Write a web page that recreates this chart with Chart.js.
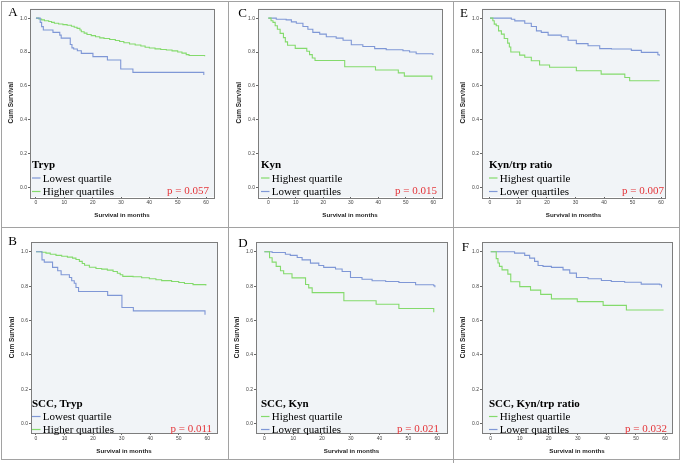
<!DOCTYPE html>
<html>
<head>
<meta charset="utf-8">
<script src="https://cdn.jsdelivr.net/npm/chart.js@4.4.1/dist/chart.umd.min.js"></script>
<style>
  body { margin: 0; background: #fff; }
  #fig { position: relative; width: 681px; height: 465px; overflow: hidden; }
  .ln { position: absolute; background: #a2a2a2; }
  canvas { position: absolute; }
</style>
</head>
<body>
<div id="fig"></div>
<script>
// axis ticks
const monthTicks = [0, 10, 20, 30, 40, 50, 60];
const survTicks = [0, 0.2, 0.4, 0.6, 0.8, 1.0];

// A - Tryp
const aLowMonths = [0, 1.5, 2.0, 2.6, 6.0, 8.4, 8.9, 12.1, 12.7, 13.3, 14.6, 16.0, 20.1, 25.2, 29.9, 34.2, 59.2];
const aLowSurv   = [1, 0.975, 0.95, 0.93, 0.916, 0.90, 0.882, 0.845, 0.825, 0.818, 0.808, 0.792, 0.773, 0.753, 0.70, 0.68, 0.665];
const aHighMonths = [0, 1, 2, 3, 4.5, 5.5, 6.5, 8, 9.5, 11, 12.5, 13.5, 14.5, 15.5, 16, 17, 18, 19.5, 21, 22.5, 24, 26, 28, 29.5, 31, 33, 35, 37, 38.5, 40, 42, 44, 46, 48, 50, 51.5, 53, 54, 59.5];
const aHighSurv   = [1, 0.995, 0.99, 0.985, 0.98, 0.975, 0.97, 0.966, 0.962, 0.958, 0.952, 0.946, 0.94, 0.93, 0.92, 0.912, 0.904, 0.897, 0.89, 0.884, 0.88, 0.874, 0.868, 0.862, 0.855, 0.848, 0.842, 0.836, 0.828, 0.824, 0.819, 0.815, 0.812, 0.807, 0.80, 0.794, 0.785, 0.78, 0.775];

// C - Kyn
const cHighMonths = [0, 1, 1.7, 2.5, 3.3, 4.3, 5.5, 6.2, 7, 9.8, 14, 15, 16, 17, 27.8, 39, 47.3, 49.5, 59.5];
const cHighSurv   = [1, 0.985, 0.975, 0.955, 0.935, 0.91, 0.885, 0.86, 0.84, 0.822, 0.805, 0.785, 0.765, 0.75, 0.713, 0.694, 0.677, 0.658, 0.637];
const cLowMonths = [0, 2.9, 6.5, 8.4, 10.2, 12.6, 14.4, 16.2, 18.7, 21.1, 24.7, 27.2, 30.2, 34.4, 38.7, 42.9, 49, 51.4, 53.8, 59.9];
const cLowSurv   = [1, 0.994, 0.99, 0.978, 0.97, 0.951, 0.935, 0.916, 0.906, 0.89, 0.882, 0.87, 0.843, 0.833, 0.82, 0.814, 0.808, 0.80, 0.79, 0.782];

// E - Kyn/trp ratio
const eHighMonths = [0, 1, 1.5, 2.2, 3, 4, 5, 6.2, 6.8, 7.3, 10.4, 12.2, 14.5, 17.4, 20.9, 30.3, 39, 47.3, 49, 59.5];
const eHighSurv   = [1, 0.985, 0.965, 0.955, 0.925, 0.906, 0.88, 0.853, 0.83, 0.80, 0.782, 0.769, 0.749, 0.724, 0.71, 0.69, 0.67, 0.65, 0.631, 0.631];
const eLowMonths = [0, 7.5, 8.7, 12.2, 14.5, 16.3, 18, 20.4, 25, 27.4, 30.3, 34.4, 38.5, 42.6, 49.6, 53.1, 58.9, 59.4];
const eLowSurv   = [1, 0.994, 0.984, 0.97, 0.951, 0.925, 0.916, 0.90, 0.89, 0.87, 0.85, 0.837, 0.82, 0.818, 0.81, 0.798, 0.784, 0.778];

// B - SCC, Tryp
const bLowMonths = [0, 2.1, 2.9, 5.8, 7.6, 8.8, 11.7, 12.5, 13.4, 14, 14.9, 25.1, 30.1, 34.1, 59.2];
const bLowSurv   = [1, 0.953, 0.94, 0.909, 0.89, 0.866, 0.85, 0.831, 0.817, 0.792, 0.769, 0.746, 0.676, 0.656, 0.633];
const bHighMonths = [0, 2, 3.5, 5, 7, 9, 11, 12.8, 14, 15.2, 16.2, 17, 18.7, 21, 23, 25, 27, 28.5, 29.5, 30.4, 34, 37, 39.7, 42, 44, 47.5, 50, 52, 55, 59.5];
const bHighSurv   = [1, 0.997, 0.992, 0.986, 0.979, 0.974, 0.969, 0.963, 0.955, 0.944, 0.932, 0.922, 0.91, 0.903, 0.899, 0.893, 0.885, 0.875, 0.866, 0.857, 0.855, 0.849, 0.843, 0.837, 0.832, 0.827, 0.821, 0.815, 0.809, 0.804];

// D - SCC, Kyn
const dHighMonths = [0, 1.8, 2.7, 4.1, 5.6, 6.7, 9.6, 14.3, 15.4, 16.6, 27.6, 38.8, 46.7, 58.8];
const dHighSurv   = [1, 0.965, 0.94, 0.915, 0.89, 0.872, 0.848, 0.81, 0.79, 0.762, 0.715, 0.695, 0.67, 0.648];
const dLowMonths = [0, 2.7, 7.3, 9, 11.4, 13.1, 16, 18.9, 20.6, 24.7, 27, 29.9, 33.9, 37.4, 42.1, 46.7, 52.5, 58.8, 59.2];
const dLowSurv   = [1, 0.996, 0.986, 0.979, 0.967, 0.953, 0.934, 0.92, 0.909, 0.90, 0.885, 0.85, 0.84, 0.831, 0.827, 0.821, 0.808, 0.802, 0.794];

// F - SCC, Kyn/trp ratio
const fHighMonths = [0, 1.9, 2.5, 3, 3.9, 5.9, 6.9, 10, 13.7, 17.2, 20.9, 29.8, 38.7, 46.7, 59.5];
const fHighSurv   = [1, 0.96, 0.935, 0.915, 0.895, 0.87, 0.826, 0.797, 0.777, 0.752, 0.726, 0.71, 0.688, 0.661, 0.661];
const fLowMonths = [0, 8.2, 11.7, 13.4, 15.1, 16.3, 18, 20.9, 24.9, 27.2, 29.5, 33.5, 38.1, 41.5, 46.1, 51.8, 58.2, 58.8];
const fLowSurv   = [1, 0.992, 0.979, 0.963, 0.944, 0.92, 0.915, 0.909, 0.895, 0.876, 0.85, 0.843, 0.833, 0.827, 0.823, 0.812, 0.808, 0.792];

const panelLetters = ['A', 'C', 'E', 'B', 'D', 'F'];
const panelTitles = ['Tryp', 'Kyn', 'Kyn/trp ratio', 'SCC, Tryp', 'SCC, Kyn', 'SCC, Kyn/trp ratio'];
const pValues = ['p = 0.057', 'p = 0.015', 'p = 0.007', 'p = 0.011', 'p = 0.021', 'p = 0.032'];

const blue = '#7f97d6';
const green = '#84da6c';

// legend rows, in legend order
const panelSeries = [
  [['Lowest quartile', aLowMonths, aLowSurv, blue], ['Higher quartiles', aHighMonths, aHighSurv, green]],
  [['Highest quartile', cHighMonths, cHighSurv, green], ['Lower quartiles', cLowMonths, cLowSurv, blue]],
  [['Highest quartile', eHighMonths, eHighSurv, green], ['Lower quartiles', eLowMonths, eLowSurv, blue]],
  [['Lowest quartile', bLowMonths, bLowSurv, blue], ['Higher quartiles', bHighMonths, bHighSurv, green]],
  [['Highest quartile', dHighMonths, dHighSurv, green], ['Lower quartiles', dLowMonths, dLowSurv, blue]],
  [['Highest quartile', fHighMonths, fHighSurv, green], ['Lower quartiles', fLowMonths, fLowSurv, blue]]
];

// page layout of each panel (pixels)
const layouts = [
  {cell: [1, 1, 228, 227], box: [30, 8.5, 214, 197], xr: [-2.1, 62.8], letter: [8.3, 16], legX: 32, legY: [168, 181.5, 195], pX: 209, pY: 193.5},
  {cell: [228, 1, 453, 227], box: [258, 8.5, 442, 197], xr: [-3.75, 63.2], letter: [238.3, 16.7], legX: 261, legY: [168, 181.5, 195], pX: 437, pY: 194},
  {cell: [453, 1, 679, 227], box: [482, 8.5, 665, 197], xr: [-2.8, 61.4], letter: [460, 16.7], legX: 489, legY: [168, 181.5, 195], pX: 664, pY: 193.5},
  {cell: [1, 227, 228, 459], box: [31, 242, 217, 433], xr: [-1.75, 63.4], letter: [8.3, 245], legX: 32, legY: [406.5, 420, 433], pX: 212, pY: 432},
  {cell: [228, 227, 453, 459], box: [256, 242, 447, 433], xr: [-2.9, 63.4], letter: [238.3, 246.7], legX: 261, legY: [406.5, 420, 433], pX: 439, pY: 432},
  {cell: [453, 227, 679, 459], box: [482, 242, 672, 433], xr: [-3, 62.4], letter: [461.7, 250.7], legX: 489, legY: [406.5, 420, 433], pX: 667, pY: 432}
];

const fig = document.getElementById('fig');

function line(x, y, w, h) {
  const d = document.createElement('div');
  d.className = 'ln';
  d.style.left = x + 'px'; d.style.top = y + 'px';
  d.style.width = w + 'px'; d.style.height = h + 'px';
  fig.appendChild(d);
}
line(1, 1, 679, 1);
line(1, 459, 679, 1);
line(1, 227, 679, 1);
line(1, 1, 1, 459);
line(228, 1, 1, 459);
line(453, 1, 1, 462);
line(679, 1, 1, 459);

const panelDecor = {
  id: 'panelDecor',
  beforeDraw(chart, args, o) {
    const {ctx, chartArea: a} = chart;
    ctx.save();
    ctx.fillStyle = '#f1f4f7';
    ctx.fillRect(a.left, a.top, a.right - a.left, a.bottom - a.top);
    ctx.restore();
  },
  afterDraw(chart, args, o) {
    const {ctx, chartArea: a} = chart;
    ctx.save();
    ctx.strokeStyle = '#7d7d7d';
    ctx.lineWidth = 1;
    ctx.strokeRect(Math.round(a.left) + 0.5, Math.round(a.top) + 0.5, Math.round(a.right - a.left), Math.round(a.bottom - a.top));

    ctx.textAlign = 'left';
    ctx.textBaseline = 'alphabetic';
    ctx.fillStyle = '#000';
    ctx.font = '13px "Liberation Serif"';
    ctx.fillText(o.letter, o.letterX, o.letterY);

    ctx.font = 'bold 11px "Liberation Serif"';
    ctx.fillText(o.title, o.legX, o.legY[0]);
    ctx.font = '11px "Liberation Serif"';
    o.rows.forEach((r, k) => {
      const y = o.legY[k + 1];
      ctx.strokeStyle = r.color;
      ctx.lineWidth = 1.2;
      ctx.beginPath();
      ctx.moveTo(o.legX, y - 3.5);
      ctx.lineTo(o.legX + 8.5, y - 3.5);
      ctx.stroke();
      ctx.fillText(r.label, o.legX + 10.8, y);
    });

    ctx.fillStyle = '#e4363a';
    ctx.textAlign = 'right';
    ctx.fillText(o.p, o.pX, o.pY);
    ctx.restore();
  }
};

layouts.forEach((L, i) => {
  const cx = L.cell[0] + 1, cy = L.cell[1] + 1;
  const cw = L.cell[2] - L.cell[0] - 1, ch = L.cell[3] - L.cell[1] - 1;
  const bl = L.box[0] - cx, bt = L.box[1] - cy, br = L.box[2] - cx, bb = L.box[3] - cy;

  const cv = document.createElement('canvas');
  cv.width = cw; cv.height = ch;
  cv.style.left = cx + 'px'; cv.style.top = cy + 'px';
  cv.style.width = cw + 'px'; cv.style.height = ch + 'px';
  fig.appendChild(cv);

  const rows = panelSeries[i];
  const yTitleSize = 6.5, xTitleSize = 6.2;

  new Chart(cv, {
    type: 'line',
    data: {
      datasets: rows.map(r => ({
        label: r[0],
        data: r[1].map((m, k) => ({x: m, y: r[2][k]})),
        borderColor: r[3],
        borderWidth: 1.1,
        pointRadius: 0,
        stepped: 'before',
        fill: false
      }))
    },
    options: {
      responsive: false,
      animation: false,
      events: [],
      layout: {padding: {left: 0, top: bt, right: cw - br, bottom: 0}},
      plugins: {
        legend: {display: false},
        tooltip: {enabled: false},
        panelDecor: {
          letter: panelLetters[i], letterX: L.letter[0] - cx, letterY: L.letter[1] - cy,
          title: panelTitles[i], legX: L.legX - cx, legY: L.legY.map(v => v - cy),
          rows: rows.map(r => ({label: r[0], color: r[3]})),
          p: pValues[i], pX: L.pX - cx, pY: L.pY - cy
        }
      },
      scales: {
        x: {
          type: 'linear',
          min: L.xr[0], max: L.xr[1],
          afterBuildTicks: s => { s.ticks = monthTicks.map(v => ({value: v})); },
          afterFit: s => { s.height = ch - bb; },
          ticks: {autoSkip: false, maxRotation: 0, padding: 1, color: '#444',
                  font: {size: 5, family: 'Liberation Sans'}, callback: v => String(v)},
          grid: {drawOnChartArea: false, drawTicks: true, tickLength: 2, color: '#666'},
          border: {display: false},
          title: {display: true, text: 'Survival in months', color: '#222',
                  font: {size: xTitleSize, weight: 'bold', family: 'Liberation Sans'},
                  padding: {top: 0, bottom: ch - bb - 18 - xTitleSize * 0.6}}
        },
        y: {
          type: 'linear',
          min: -0.055, max: 1.057,
          afterBuildTicks: s => { s.ticks = survTicks.map(v => ({value: v})); },
          afterFit: s => { s.width = bl; },
          ticks: {autoSkip: false, padding: 1, color: '#444',
                  font: {size: 5, family: 'Liberation Sans'}, callback: v => Number(v).toFixed(1)},
          grid: {drawOnChartArea: false, drawTicks: true, tickLength: 2, color: '#666'},
          border: {display: false},
          title: {display: true, text: 'Cum Survival', color: '#222',
                  font: {size: yTitleSize, weight: 'bold', family: 'Liberation Sans'},
                  padding: {top: bl - 19 - yTitleSize * 0.6, bottom: 0}}
        }
      }
    },
    plugins: [panelDecor]
  });
});
</script>
</body>
</html>
